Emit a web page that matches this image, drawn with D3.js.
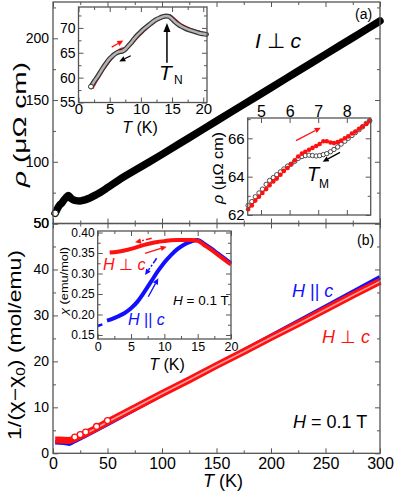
<!DOCTYPE html>
<html>
<head>
<meta charset="utf-8">
<script src="https://cdn.jsdelivr.net/npm/d3@7"></script>
<style>
  body { margin: 0; background: #fff; }
  svg { font-family: Arial, "Liberation Sans", Helvetica, sans-serif; }
</style>
</head>
<body>
<svg id="chart" width="395" height="492"></svg>
<script>
// ====== Data ======

// (a) rho(T), I perp c
const rhoT   = [2, 4, 6, 8, 10, 12, 14, 15, 16, 18, 20, 25, 30, 40, 50, 60, 80, 100, 125, 150, 175, 200, 225, 250, 275, 300];
const rhoVal = [58.3, 62, 64.8, 66.5, 69, 71, 72.6, 72, 70.8, 69.5, 68.8, 68.3, 69.3, 73.5, 79, 85, 95.5, 106, 119.5, 133, 146.5, 160, 173.5, 187, 200.5, 214];

// inset (a) low T, cooling (grey) and warming (red)
const coolT   = [2, 2.5, 3, 3.5, 4, 4.5, 5, 5.5, 6, 6.5, 7, 7.5, 8, 8.5, 9, 9.5, 10, 10.5, 11, 11.5, 12, 12.5, 13, 13.5, 14, 14.5, 15, 15.5, 16, 16.5, 17, 17.5, 18, 18.5, 19, 19.5, 20, 20.5];
const coolRho = [58.2, 59.2, 60.1, 61.1, 62.1, 63.0, 63.8, 64.4, 64.9, 65.2, 65.3, 65.7, 66.4, 67.1, 67.9, 68.6, 69.2, 69.8, 70.3, 70.8, 71.3, 71.7, 72.0, 72.25, 72.4, 72.3, 71.8, 71.2, 70.7, 70.3, 70.0, 69.7, 69.5, 69.3, 69.1, 68.9, 68.8, 68.7];
const warmT   = [2.2, 3, 4, 5, 5.5, 6, 6.5, 7, 7.5, 8, 9, 10, 11, 12, 13, 14, 14.6, 15, 16, 17, 18, 19, 20, 20.5];
const warmRho = [57.8, 59.6, 61.6, 63.4, 64.2, 64.9, 65.5, 65.8, 65.9, 66.2, 67.5, 68.8, 70.0, 71.0, 71.8, 72.3, 72.5, 72.2, 71.1, 70.3, 69.7, 69.3, 69.0, 68.9];

// inset (a) zoom around T_M
const zoomT    = [4.55, 4.68, 4.80, 4.93, 5.05, 5.18, 5.30, 5.43, 5.55, 5.68, 5.80, 5.93, 6.05, 6.18, 6.30, 6.43, 6.55, 6.68, 6.80, 6.93, 7.05, 7.18, 7.30, 7.43, 7.55, 7.68, 7.80, 7.93, 8.05, 8.18, 8.30, 8.43, 8.55, 8.68, 8.80];
const zoomWarm = [62.3, 62.5, 62.75, 62.95, 63.15, 63.35, 63.55, 63.75, 63.9, 64.1, 64.3, 64.45, 64.65, 64.85, 65.05, 65.2, 65.3, 65.4, 65.5, 65.6, 65.7, 65.85, 65.85, 65.78, 65.75, 65.8, 65.88, 66.0, 66.1, 66.25, 66.35, 66.5, 66.62, 66.75, 66.9];
const zoomCool = [62.5, 62.7, 62.95, 63.15, 63.35, 63.6, 63.8, 63.95, 64.1, 64.25, 64.4, 64.55, 64.65, 64.8, 64.95, 65.05, 65.1, 65.12, 65.1, 65.08, 65.1, 65.15, 65.2, 65.3, 65.42, 65.55, 65.7, 65.85, 66.0, 66.15, 66.3, 66.45, 66.6, 66.78, 66.92];

// (b) 1/(chi-chi0)
const invT     = [2, 5, 10, 15, 17, 20, 25, 30, 40, 50, 75, 100, 125, 150, 175, 200, 225, 250, 275, 300];
const invPerp  = [2.9, 2.9, 2.85, 2.8, 2.9, 3.2, 3.75, 4.3, 5.5, 6.8, 9.9, 13.0, 16.0, 19.1, 22.1, 25.2, 28.2, 31.3, 34.4, 37.4];
const invParT  = [2, 10, 15, 17, 20, 30, 50, 100, 150, 200, 250, 300];
const invPar   = [2.4, 2.3, 2.1, 2.3, 2.7, 3.9, 6.4, 12.8, 19.1, 25.5, 31.9, 38.3];

// inset (b) chi(T)
const chiPerpT = [1.8, 3, 4, 5, 6, 7, 8, 9, 10, 11, 12, 13, 14, 15, 16, 17, 18, 19, 20];
const chiPerp  = [0.351, 0.353, 0.356, 0.36, 0.365, 0.370, 0.374, 0.377, 0.379, 0.381, 0.382, 0.382, 0.382, 0.380, 0.369, 0.358, 0.346, 0.334, 0.322];
const chiParT  = [1.4, 2, 3, 4, 5, 6, 7, 8, 9, 10, 11, 12, 13, 14, 15, 16, 17, 18, 19, 20];
const chiPar   = [0.185, 0.188, 0.195, 0.203, 0.215, 0.232, 0.255, 0.28, 0.305, 0.327, 0.345, 0.36, 0.371, 0.378, 0.382, 0.372, 0.361, 0.349, 0.337, 0.325];
const chiParExtT = [0, 0.7];
const chiParExt  = [0.172, 0.176];

// ticks
const mainXTicks = [0, 50, 100, 150, 200, 250, 300];
const mainXMinor = [25, 75, 125, 175, 225, 275];

const RED = "#ff1010", BLUE = "#1010ff", FRAME = "#555";

const svg = d3.select("#chart");

// ====== helpers ======
function addAxis(g, kind, scale, major, minor, pos, opt) {
  const f = { bottom: d3.axisBottom, top: d3.axisTop, left: d3.axisLeft, right: d3.axisRight }[kind];
  const tr = (kind === "bottom" || kind === "top") ? `translate(0,${pos})` : `translate(${pos},0)`;
  if (minor && minor.length) {
    const m = g.append("g").attr("transform", tr)
      .call(f(scale).tickValues(minor).tickSize(-(opt.minor || 3)).tickFormat(""));
    m.select(".domain").remove();
    m.selectAll("line").attr("stroke", FRAME);
  }
  const a = g.append("g").attr("transform", tr)
    .call(f(scale).tickValues(major).tickSize(-(opt.major || 5)).tickPadding(opt.pad || 4)
      .tickFormat(opt.labels ? (opt.fmt || (d => d)) : ""));
  a.select(".domain").remove();
  a.selectAll("line").attr("stroke", FRAME);
  a.attr("font-size", opt.size || 14).attr("font-family", null);
  a.selectAll("text").attr("fill", "#000");
}

function frame(g, x, y) {
  const [x0, x1] = x.range(), [y0, y1] = y.range();
  g.append("rect").attr("x", x0).attr("y", y1).attr("width", x1 - x0).attr("height", y0 - y1)
    .attr("fill", "none").attr("stroke", FRAME).attr("stroke-width", 1.3);
}

function bg(g, x, y) {
  const [x0, x1] = x.range(), [y0, y1] = y.range();
  g.append("rect").attr("x", x0).attr("y", y1).attr("width", x1 - x0).attr("height", y0 - y1).attr("fill", "#fff");
}

function pts(xs, ys) { return xs.map((d, i) => [d, ys[i]]); }

function arrow(g, p1, p2, color, opt = {}) {
  const dx = p2[0] - p1[0], dy = p2[1] - p1[1], L = Math.hypot(dx, dy);
  const ux = dx / L, uy = dy / L;
  const hl = opt.head || 6, hw = opt.hw || 2.8;
  const bx = p2[0] - ux * hl, by = p2[1] - uy * hl;
  g.append("line").attr("x1", p1[0]).attr("y1", p1[1]).attr("x2", bx).attr("y2", by)
    .attr("stroke", color).attr("stroke-width", opt.w || 1.3).attr("stroke-dasharray", opt.dash || null);
  g.append("path").attr("d", `M${p2[0]},${p2[1]}L${bx - uy * hw},${by + ux * hw}L${bx + uy * hw},${by - ux * hw}Z`)
    .attr("fill", color);
}

function txt(g, x, y, parts, size, color, anchor) {
  const t = g.append("text").attr("x", x).attr("y", y).attr("font-size", size)
    .attr("fill", color || "#000").attr("text-anchor", anchor || "start");
  parts.forEach(p => {
    const s = t.append("tspan").text(p.t);
    if (p.i) s.attr("font-style", "italic");
    if (p.s) s.attr("font-size", p.s);
    if (p.dy) s.attr("dy", p.dy);
  });
  return t;
}

function vlabel(g, cx, cy, parts, size, len) {
  const t = g.append("text").attr("transform", `translate(${cx},${cy}) rotate(-90)`)
    .attr("text-anchor", "middle").attr("dy", "0.35em").attr("font-size", size)
    .attr("textLength", len).attr("lengthAdjust", "spacingAndGlyphs");
  parts.forEach(p => {
    const s = t.append("tspan").text(p.t);
    if (p.i) s.attr("font-style", "italic");
    if (p.s) s.attr("font-size", p.s);
    if (p.dy) s.attr("dy", p.dy);
  });
}

// ====== main scales ======
const x  = d3.scaleLinear().domain([0, 300]).range([53, 380]);
const yA = d3.scaleLinear().domain([50, 229.4]).range([223.5, 2]);
const yB = d3.scaleLinear().domain([0, 50]).range([453.3, 223.5]);

const gA = svg.append("g");
const gB = svg.append("g");

// ----- panel (a) -----
addAxis(gA, "bottom", x, mainXTicks, mainXMinor, 223.5, {});
addAxis(gA, "top", x, mainXTicks, mainXMinor, 2, {});
addAxis(gA, "left", yA, [50, 100, 150, 200], [75, 125, 175, 225], 53, { labels: true, size: 14, pad: 4 });
addAxis(gA, "right", yA, [50, 100, 150, 200], [75, 125, 175, 225], 380, {});

const lineA = d3.line().x(d => x(d[0])).y(d => yA(d[1])).curve(d3.curveMonotoneX);
const rhoPts = pts(rhoT, rhoVal);
gA.append("path").attr("d", lineA(rhoPts)).attr("fill", "none").attr("stroke", "#000")
  .attr("stroke-width", 7.5).attr("stroke-linecap", "round").attr("stroke-linejoin", "round");
gA.append("circle").attr("cx", x(rhoPts[0][0])).attr("cy", yA(rhoPts[0][1])).attr("r", 3.2)
  .attr("fill", "#fff").attr("stroke", "#000").attr("stroke-width", 1);

txt(gA, 355, 19, [{ t: "(a)" }], 14);
txt(gA, 255, 48, [{ t: "I", i: 1 }, { t: " \u22a5 " }, { t: "c", i: 1 }], 21);
vlabel(gA, 20, 124.5, [{ t: "\u03c1", i: 1 }, { t: "  (\u03bc\u03a9 cm)" }], 18, 125);

// ----- inset (a) 0-20 K -----
const xa1 = d3.scaleLinear().domain([0, 20.6]).range([78.5, 207]);
const ya1 = d3.scaleLinear().domain([55, 74.2]).range([102.5, 7]);
const gI1 = svg.append("g");
bg(gI1, xa1, ya1);
addAxis(gI1, "bottom", xa1, [0, 5, 10, 15, 20], [2.5, 7.5, 12.5, 17.5], 102.5, { labels: true, size: 15, pad: 1 });
addAxis(gI1, "top", xa1, [0, 5, 10, 15, 20], [2.5, 7.5, 12.5, 17.5], 7, {});
addAxis(gI1, "left", ya1, [55, 60, 65, 70], [57.5, 62.5, 67.5, 72.5], 78.5, { labels: true, size: 14, pad: 3 });
addAxis(gI1, "right", ya1, [55, 60, 65, 70], [57.5, 62.5, 67.5, 72.5], 207, {});

const lineI1 = d3.line().x(d => xa1(d[0])).y(d => ya1(d[1])).curve(d3.curveMonotoneX);
gI1.append("path").attr("d", lineI1(pts(warmT, warmRho))).attr("fill", "none").attr("stroke", RED).attr("stroke-width", 2.5);
gI1.append("path").attr("d", lineI1(pts(coolT, coolRho))).attr("fill", "none").attr("stroke", "#333").attr("stroke-width", 5).attr("stroke-linecap", "round");
gI1.append("path").attr("d", lineI1(pts(coolT, coolRho))).attr("fill", "none").attr("stroke", "#b4b4b4").attr("stroke-width", 2.6).attr("stroke-linecap", "round");
gI1.append("circle").attr("cx", xa1(coolT[0])).attr("cy", ya1(coolRho[0])).attr("r", 2.4).attr("fill", "#fff").attr("stroke", "#333");

arrow(gI1, [xa1(5.32), ya1(66.14)], [xa1(7.18), ya1(67.46)], RED, { w: 1.3 });
arrow(gI1, [xa1(8.37), ya1(64.4)], [xa1(6.54), ya1(63.26)], "#000", { w: 1.3 });
arrow(gI1, [xa1(14.18), ya1(63.0)], [xa1(14.18), ya1(71.0)], "#000", { w: 1.5, head: 9, hw: 3.5 });
txt(gI1, 159, 80, [{ t: "T", i: 1 }], 21);
txt(gI1, 174, 84, [{ t: "N" }], 12);
txt(gI1, 140, 133, [{ t: "T", i: 1 }, { t: " (K)" }], 16, "#000", "middle");
frame(gI1, xa1, ya1);

// ----- inset (a) T_M zoom -----
const xa2 = d3.scaleLinear().domain([4.535, 8.835]).range([247.7, 370.7]);
const ya2 = d3.scaleLinear().domain([62, 67.06]).range([215, 118]);
const gI2 = svg.append("g");
bg(gI2, xa2, ya2);
addAxis(gI2, "top", xa2, [5, 6, 7, 8], [], 118, { labels: true, size: 16, pad: 1 });
addAxis(gI2, "bottom", xa2, [5, 6, 7, 8], [], 215, {});
addAxis(gI2, "left", ya2, [62, 64, 66], [63, 65, 67], 247.7, { labels: true, size: 15, pad: 3 });
addAxis(gI2, "right", ya2, [62, 64, 66], [63, 65, 67], 370.7, {});

const lineI2 = d3.line().x(d => xa2(d[0])).y(d => ya2(d[1]));
gI2.append("path").attr("d", lineI2(pts(zoomT, zoomWarm))).attr("fill", "none").attr("stroke", RED).attr("stroke-width", 1.2);
gI2.selectAll("circle.cool").data(pts(zoomT, zoomCool)).join("circle").attr("class", "cool")
  .attr("cx", d => xa2(d[0])).attr("cy", d => ya2(d[1])).attr("r", 2.2)
  .attr("fill", "#fff").attr("stroke", "#222").attr("stroke-width", 0.8);
gI2.selectAll("circle.warm").data(pts(zoomT, zoomWarm)).join("circle").attr("class", "warm")
  .attr("cx", d => xa2(d[0])).attr("cy", d => ya2(d[1])).attr("r", 2.3).attr("fill", RED);

arrow(gI2, [xa2(6.224), ya2(65.876)], [xa2(7.087), ya2(66.554)], RED, { w: 1.3 });
arrow(gI2, [xa2(7.762), ya2(65.27)], [xa2(7.157), ya2(64.78)], "#000", { w: 1.3 });
txt(gI2, 307, 181, [{ t: "T", i: 1 }], 20);
txt(gI2, 319, 188, [{ t: "M" }], 12);
vlabel(gI2, 218, 168, [{ t: "\u03c1", i: 1 }, { t: "  (\u03bc\u03a9 cm)" }], 14, 72);
frame(gI2, xa2, ya2);

frame(gA, x, yA);

// ----- panel (b) -----
addAxis(gB, "bottom", x, mainXTicks, mainXMinor, 453.3, { labels: true, size: 16, pad: 4 });
addAxis(gB, "top", x, mainXTicks, mainXMinor, 223.5, {});
addAxis(gB, "left", yB, [0, 10, 20, 30, 40, 50], [5, 15, 25, 35, 45], 53, { labels: true, size: 14, pad: 4 });
addAxis(gB, "right", yB, [0, 10, 20, 30, 40, 50], [5, 15, 25, 35, 45], 380, {});

const lineB = d3.line().x(d => x(d[0])).y(d => yB(d[1]));
gB.append("path").attr("d", lineB(pts(invParT, invPar))).attr("fill", "none").attr("stroke", BLUE).attr("stroke-width", 4.5);
const perpPts = pts(invT, invPerp);
gB.append("path").attr("d", lineB(perpPts)).attr("fill", "none").attr("stroke", RED).attr("stroke-width", 7);
gB.append("path").attr("d", lineB(perpPts.filter(d => d[0] >= 20))).attr("fill", "none").attr("stroke", "#ff9c9c").attr("stroke-width", 1.6);
gB.selectAll("circle.op").data(perpPts.filter(d => d[0] >= 20 && d[0] <= 50)).join("circle").attr("class", "op")
  .attr("cx", d => x(d[0])).attr("cy", d => yB(d[1]) - 1.5).attr("r", 3)
  .attr("fill", "#fff").attr("stroke", RED).attr("stroke-width", 1.3);

txt(gB, 357, 245, [{ t: "(b)" }], 14);
txt(gB, 292, 297, [{ t: "H", i: 1 }, { t: " || " }, { t: "c", i: 1 }], 18, BLUE);
txt(gB, 322, 343, [{ t: "H", i: 1 }, { t: " \u22a5 " }, { t: "c", i: 1 }], 18, RED);
txt(gB, 293, 428, [{ t: "H", i: 1 }, { t: " = 0.1 T" }], 18);
txt(gB, 223, 487, [{ t: "T", i: 1 }, { t: " (K)" }], 18, "#000", "middle");
vlabel(gB, 15, 345, [{ t: "1/(\u03c7\u2212\u03c7" }, { t: "0", s: 12, dy: "4" }, { t: ") (mol/emu)", dy: "-4" }], 18, 190);

// ----- inset (b) chi(T) -----
const xb = d3.scaleLinear().domain([0, 20]).range([97.7, 231]);
const yb = d3.scaleLinear().domain([0.1402, 0.4037]).range([339, 231]);
const gI3 = svg.append("g");
bg(gI3, xb, yb);
const chiMajor = [0.15, 0.20, 0.25, 0.30, 0.35, 0.40];
const chiMinor = [0.175, 0.225, 0.275, 0.325, 0.375];
addAxis(gI3, "bottom", xb, [0, 5, 10, 15, 20], [2.5, 7.5, 12.5, 17.5], 339, { labels: true, size: 12.5, pad: 3 });
addAxis(gI3, "top", xb, [0, 5, 10, 15, 20], [2.5, 7.5, 12.5, 17.5], 231, {});
addAxis(gI3, "left", yb, chiMajor, chiMinor, 97.7, { labels: true, size: 12, pad: 3, fmt: d3.format(".2f") });
addAxis(gI3, "right", yb, chiMajor, chiMinor, 231, {});

const lineI3 = d3.line().x(d => xb(d[0])).y(d => yb(d[1])).curve(d3.curveMonotoneX);
gI3.append("path").attr("d", lineI3(pts(chiParExtT, chiParExt))).attr("fill", "none").attr("stroke", BLUE).attr("stroke-width", 2.5);
gI3.append("path").attr("d", lineI3(pts(chiParT, chiPar))).attr("fill", "none").attr("stroke", BLUE).attr("stroke-width", 4);
gI3.append("path").attr("d", lineI3(pts(chiPerpT, chiPerp))).attr("fill", "none").attr("stroke", RED).attr("stroke-width", 4);

arrow(gI3, [xb(8.10), yb(0.3859)], [xb(5.60), yb(0.3761)], RED, { w: 1.5, dash: "6,2,2,2" });
arrow(gI3, [xb(7.10), yb(0.3493)], [xb(10.35), yb(0.3654)], RED, { w: 1.3 });
arrow(gI3, [xb(8.85), yb(0.3371)], [xb(7.10), yb(0.2963)], BLUE, { w: 1.5, dash: "6,2,2,2" });
arrow(gI3, [xb(7.59), yb(0.2434)], [xb(9.09), yb(0.2883)], BLUE, { w: 1.3 });

txt(gI3, 103, 270, [{ t: "H", i: 1 }, { t: " \u22a5 " }, { t: "c", i: 1 }], 16, RED);
txt(gI3, 128, 325, [{ t: "H", i: 1 }, { t: " || " }, { t: "c", i: 1 }], 16, BLUE);
txt(gI3, 173, 305, [{ t: "H", i: 1 }, { t: " = 0.1 T" }], 13.5);
txt(gI3, 167, 370, [{ t: "T", i: 1 }, { t: " (K)" }], 16, "#000", "middle");
vlabel(gI3, 64, 281, [{ t: "\u03c7", i: 1 }, { t: " (emu/mol)" }], 11.5, 68);
frame(gI3, xb, yb);

frame(gB, x, yB);
</script>
</body>
</html>
